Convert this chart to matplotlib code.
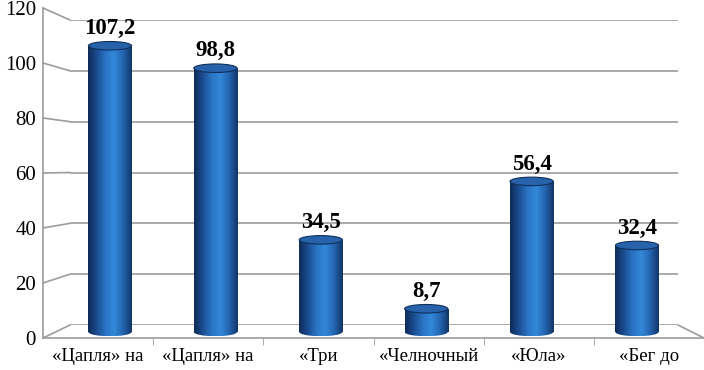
import matplotlib.pyplot as plt
import numpy as np
from matplotlib.patches import Rectangle, Ellipse, ConnectionPatch
from matplotlib.colors import LinearSegmentedColormap

# Daten
categories = ["«Цапля» на", "«Цапля» на", "«Три", "«Челночный", "«Юла»", "«Бег до"]
values = [107.2, 98.8, 34.5, 8.7, 56.4, 32.4]
y_ticks = [0, 20, 40, 60, 80, 100, 120]

W, H = 704, 370
serif = "Liberation Serif"
grid_col = "#9c9c9c"


def box(x0, y_top, x1, y_bot):
    # Pixelrahmen -> Figure-Koordinaten
    return [x0 / W, 1 - y_bot / H, (x1 - x0) / W, (y_bot - y_top) / H]


fig = plt.figure(figsize=(W / 100, H / 100), dpi=100)

# Rueckwand mit Gitterlinien
ax_back = fig.add_axes(box(70, 20, 678, 325))
ax_back.set_xlim(0, 1)
ax_back.set_ylim(0, 120)
ax_back.axis("off")
for t in y_ticks:
    ax_back.plot([0, 1], [t, t], color=grid_col, lw=1.2, zorder=1)

# vordere Ebene: Achsen und Beschriftungen
ax_front = fig.add_axes(box(43, 8, 704, 338))
ax_front.patch.set_alpha(0)
ax_front.set_xlim(0, 6)
ax_front.set_ylim(0, 120)
for s in ["top", "right"]:
    ax_front.spines[s].set_visible(False)
for s in ["left", "bottom"]:
    ax_front.spines[s].set_color(grid_col)
    ax_front.spines[s].set_linewidth(1.2)
ax_front.set_yticks(y_ticks)
ax_front.set_yticklabels([str(t) for t in y_ticks], fontfamily=serif, fontsize=15)
ax_front.tick_params(axis="y", length=0, pad=5)
ax_front.set_xticks(np.arange(len(categories)) + 0.5)
ax_front.set_xticklabels(categories, fontfamily=serif, fontsize=13.5)
ax_front.set_xticks(np.arange(1, len(categories)), minor=True)
ax_front.tick_params(axis="x", which="major", length=0, pad=7)
ax_front.tick_params(axis="x", which="minor", length=5, color=grid_col, direction="out")

# schraege Verbindungslinien (Perspektive)
for t in y_ticks:
    con = ConnectionPatch(xyA=(0, t), coordsA=ax_front.transData,
                          xyB=(0, t), coordsB=ax_back.transData,
                          color=grid_col, lw=1.2)
    fig.add_artist(con)
con = ConnectionPatch(xyA=(6, 0), coordsA=ax_front.transData,
                      xyB=(1, 0), coordsB=ax_back.transData,
                      color=grid_col, lw=1.2)
fig.add_artist(con)

# Saeulen (Zylinder)
ax_bars = fig.add_axes(box(57.3, 11.6, 689.7, 348))
ax_bars.set_xlim(-0.5, len(categories) - 0.5)
ax_bars.set_ylim(-6, 120)
ax_bars.axis("off")

cmap = LinearSegmentedColormap.from_list(
    "cyl", ["#0f2c58", "#1b4d92", "#2a74c4", "#3288d8", "#2466b2", "#133668"])
grad = cmap(np.linspace(0, 1, 64))[np.newaxis, :, :]

bw = 0.41
eh = 3.2
for i, v in enumerate(values):
    x0, x1 = i - bw / 2, i + bw / 2
    rect = Rectangle((x0, 0), bw, v, transform=ax_bars.transData)
    im = ax_bars.imshow(grad, extent=[x0, x1, 0, v], aspect="auto", zorder=3)
    im.set_clip_path(rect)
    bot = Ellipse((i, 0), bw, eh, transform=ax_bars.transData)
    im2 = ax_bars.imshow(grad, extent=[x0, x1, -eh / 2, eh / 2], aspect="auto", zorder=3)
    im2.set_clip_path(bot)
    ax_bars.add_patch(Ellipse((i, v), bw, eh, facecolor="#2762ab",
                              edgecolor="#10305c", lw=0.8, zorder=4))
    ax_bars.annotate(f"{v:.1f}".replace(".", ","), (i, v), xytext=(0, 12.5),
                     textcoords="offset points", ha="center", va="center",
                     fontfamily=serif, fontsize=16.5, fontweight="bold", zorder=5)

ax_bars.set_xlim(-0.5, len(categories) - 0.5)
ax_bars.set_ylim(-6, 120)

fig.savefig("out.png", dpi=100)
